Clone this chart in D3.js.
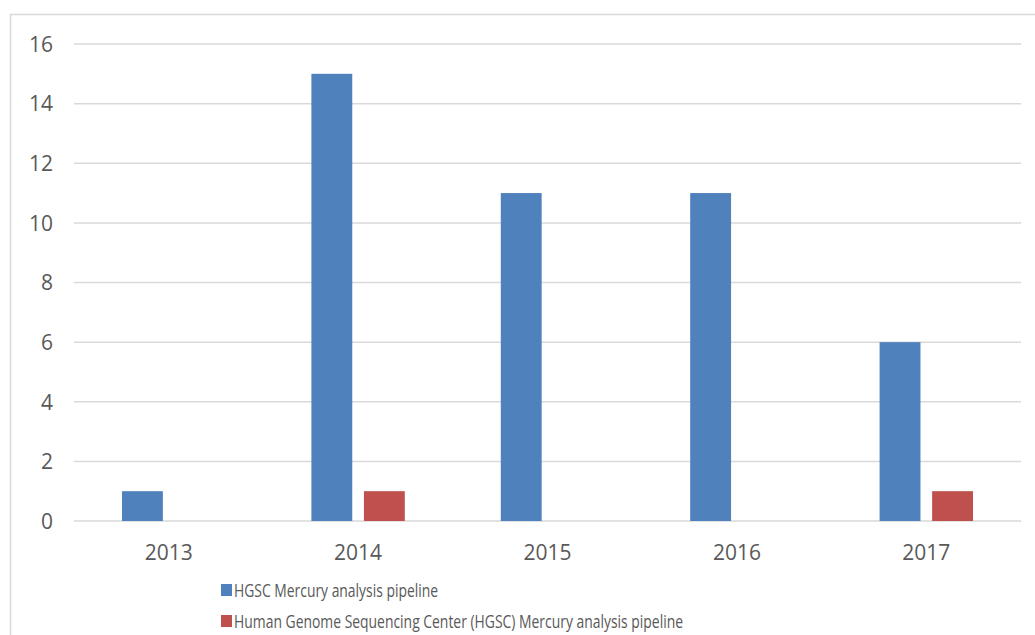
<!DOCTYPE html>
<html><head><meta charset="utf-8">
<script src="https://cdn.jsdelivr.net/npm/d3@7"></script>
<style>html,body{margin:0;padding:0;background:#fff;}svg{display:block;}</style>
</head><body>
<svg id="chart" width="1035" height="635"></svg>
<script>
const categories = ["2013","2014","2015","2016","2017"];
const seriesNames = ["HGSC Mercury analysis pipeline","Human Genome Sequencing Center (HGSC) Mercury analysis pipeline"];
const seriesA = [1,15,11,11,6];
const seriesB = [0,1,0,0,1];
const yTicks = [0,2,4,6,8,10,12,14,16];
const colors = ["#4F81BD","#C0504D"];

const svg = d3.select("#chart");
const font = "'Open Sans', sans-serif";
const textColor = "#595959";

// chart border
svg.append("rect").attr("x",10.5).attr("y",14.5).attr("width",1040).attr("height",640)
  .attr("fill","none").attr("stroke","#d9d9d9").attr("stroke-width",1.5);

const x = d3.scaleBand().domain(categories).range([74,1021]).padding(0);
const y = d3.scaleLinear().domain([0,16]).range([521,44]);
const bw = x.bandwidth();
const xSub = d3.scaleBand().domain([0,1]).range([bw*0.2534, bw*0.7466]).paddingInner(0.222).paddingOuter(0);

// gridlines
svg.append("g").selectAll("line").data(yTicks).join("line")
  .attr("x1",74).attr("x2",1021).attr("y1",d=>y(d)).attr("y2",d=>y(d))
  .attr("stroke","#d9d9d9").attr("stroke-width",1.5);

// y labels
const yAxis = d3.axisLeft(y).tickValues(yTicks).tickSize(0).tickPadding(0);
const gy = svg.append("g").attr("transform","translate(53,0)").call(yAxis);
gy.select(".domain").remove();
gy.selectAll("text").attr("font-family",font).attr("font-size",21).attr("fill",textColor).attr("dy","0.35em");

// bars
const data = categories.map((c,i)=>({c, vals:[seriesA[i],seriesB[i]]}));
const groups = svg.append("g").selectAll("g").data(data).join("g")
  .attr("transform",d=>`translate(${x(d.c)},0)`);
groups.selectAll("rect").data(d=>d.vals.map((v,k)=>({v,k}))).join("rect")
  .filter(d=>d.v>0)
  .attr("x",d=>xSub(d.k)).attr("width",xSub.bandwidth())
  .attr("y",d=>y(d.v)).attr("height",d=>y(0)-y(d.v))
  .attr("fill",d=>colors[d.k]);

// x labels
const xAxis = d3.axisBottom(x).tickSize(0).tickPadding(0);
const gx = svg.append("g").attr("transform","translate(0,553)").call(xAxis);
gx.select(".domain").remove();
gx.selectAll("text").attr("font-family",font).attr("font-size",21).attr("fill",textColor).attr("dy","0.35em");

// legend
const legY = [590,621];
const legW = [204,449];
const leg = svg.append("g");
seriesNames.forEach((n,i)=>{
  leg.append("rect").attr("x",221).attr("y",legY[i]-6).attr("width",11).attr("height",12).attr("fill",colors[i]);
  leg.append("text").attr("x",234).attr("y",legY[i]).attr("dy","0.35em")
    .attr("font-family",font).attr("font-size",19).attr("fill",textColor)
    .attr("textLength",legW[i]).attr("lengthAdjust","spacingAndGlyphs").text(n);
});
</script>
</body></html>
